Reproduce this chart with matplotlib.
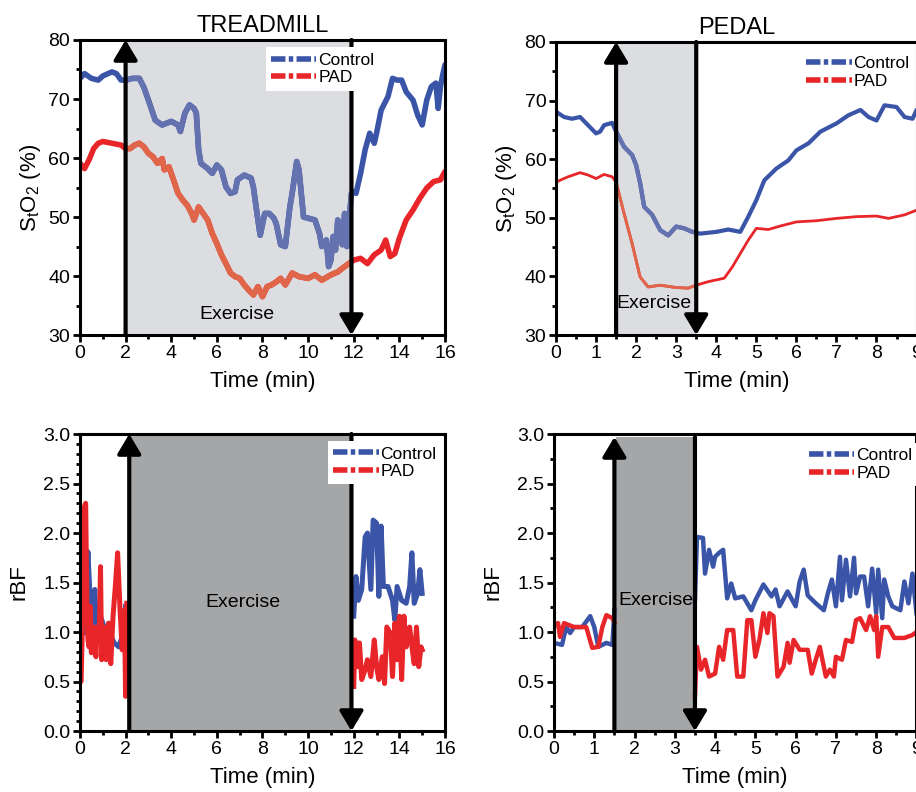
import numpy as np
import matplotlib
matplotlib.use("Agg")
import matplotlib.pyplot as plt
from matplotlib.lines import Line2D
from matplotlib.ticker import MultipleLocator

plt.rcParams['font.family'] = ['Liberation Sans', 'DejaVu Sans']
plt.rcParams['mathtext.fontset'] = 'custom'
plt.rcParams['mathtext.rm'] = 'Liberation Sans'
plt.rcParams['mathtext.it'] = 'Liberation Sans'

BLUE = '#3a55a8'
RED = '#e8262a'
BLUE_FADE = '#6472b0'
RED_FADE = '#e0664a'

# ---- treadmill StO2 ----
tm_ctrl_t = [0, 0.2, 0.5, 0.8, 1.0, 1.4, 1.6, 1.8, 2.0, 2.3, 2.6, 2.8, 3.0, 3.3, 3.6, 4.0, 4.3, 4.4,
             4.6, 4.8, 5.0, 5.1, 5.2, 5.3, 5.6, 5.8, 6.0, 6.2, 6.4, 6.6, 6.8, 6.9, 7.2, 7.5, 7.6, 7.8,
             7.9, 8.1, 8.3, 8.5, 8.6, 8.8, 9.0, 9.2, 9.3, 9.5, 9.6, 9.8, 10.0, 10.3, 10.5, 10.6, 10.8,
             10.9, 11.0, 11.1, 11.2, 11.3, 11.5, 11.6, 11.7, 11.9, 12.0, 12.1, 12.3, 12.5, 12.7, 12.9,
             13.0, 13.2, 13.5, 13.7, 13.9, 14.1, 14.3, 14.6, 14.8, 15.0, 15.2, 15.4, 15.6, 15.7, 15.8,
             15.9, 16.0]
tm_ctrl_v = [73.5, 74.3, 73.5, 73.2, 73.9, 74.6, 74.3, 73.2, 73.2, 73.5, 73.5, 72.0, 69.8, 66.4, 65.6,
             66.2, 65.6, 64.5, 67.6, 69.0, 68.4, 67.6, 61.4, 59.1, 58.2, 57.4, 58.8, 58.0, 55.1, 54.0,
             54.3, 56.3, 57.1, 56.6, 55.1, 49.5, 46.9, 50.6, 50.6, 49.8, 48.9, 45.3, 45.0, 51.7, 54.0,
             59.4, 58.0, 50.0, 49.8, 49.5, 47.2, 45.0, 46.1, 41.6, 42.7, 46.7, 44.4, 49.5, 45.3, 50.6,
             45.0, 54.0, 54.3, 54.0, 57.4, 61.4, 64.2, 62.5, 64.2, 68.1, 70.4, 73.5, 73.2, 73.2, 71.2,
             69.8, 67.3, 65.6, 69.8, 72.1, 72.7, 68.4, 72.1, 74.1, 75.8]
tm_pad_t = [0, 0.2, 0.4, 0.6, 0.8, 1.0, 1.4, 1.8, 2.0, 2.2, 2.4, 2.6, 2.8, 3.0, 3.2, 3.4, 3.6, 3.7, 3.9,
            4.1, 4.3, 4.5, 4.7, 4.9, 5.0, 5.2, 5.4, 5.6, 5.8, 6.0, 6.2, 6.4, 6.6, 6.8, 7.0, 7.2, 7.4,
            7.6, 7.8, 8.0, 8.2, 8.4, 8.6, 8.8, 9.0, 9.3, 9.6, 10.0, 10.3, 10.6, 11.0, 11.3, 11.6, 12.0,
            12.3, 12.6, 12.9, 13.2, 13.4, 13.6, 13.8, 14.0, 14.3, 14.6, 14.9, 15.2, 15.5, 15.8, 16.0]
tm_pad_v = [59.1, 58.2, 59.7, 61.6, 62.5, 62.8, 62.5, 62.2, 61.6, 61.6, 62.2, 62.5, 61.9, 60.8, 60.2,
            59.1, 59.9, 58.0, 58.5, 56.3, 54.0, 52.9, 52.0, 50.6, 49.5, 51.7, 50.6, 49.5, 47.2, 45.5,
            43.6, 42.1, 40.5, 39.9, 39.6, 38.5, 37.6, 36.8, 38.2, 36.5, 38.2, 38.5, 39.0, 39.6, 38.5,
            40.5, 39.9, 39.6, 40.2, 39.3, 40.2, 40.7, 41.6, 42.7, 43.0, 42.1, 43.6, 44.4, 46.1, 43.3,
            43.8, 46.4, 49.5, 51.2, 53.2, 54.9, 56.0, 56.3, 57.7]

# ---- pedal StO2 ----
pd_ctrl_t = [0, 0.2, 0.4, 0.6, 0.8, 1.0, 1.1, 1.2, 1.4, 1.5, 1.7, 1.9, 2.0, 2.1, 2.2, 2.4, 2.6, 2.8,
             3.0, 3.2, 3.4, 3.6, 4.0, 4.3, 4.6, 4.8, 5.0, 5.2, 5.5, 5.8, 6.0, 6.3, 6.6, 7.0, 7.3, 7.6,
             7.8, 8.0, 8.2, 8.5, 8.7, 8.9, 9.0]
pd_ctrl_v = [68.1, 67.2, 66.9, 67.2, 65.8, 64.4, 64.7, 65.8, 66.2, 64.7, 62.1, 60.7, 59.0, 55.9, 51.9,
             50.5, 47.9, 47.0, 48.5, 48.2, 47.6, 47.3, 47.6, 48.0, 47.6, 50.2, 53.0, 56.4, 58.4, 59.8,
             61.5, 62.7, 64.7, 66.1, 67.5, 68.4, 67.2, 66.6, 69.2, 68.9, 67.2, 66.9, 68.4]
pd_pad_t = [0, 0.3, 0.6, 0.8, 1.0, 1.2, 1.4, 1.5, 1.7, 1.9, 2.1, 2.3, 2.6, 3.0, 3.3, 3.5, 3.8, 4.2,
            4.4, 4.6, 4.8, 5.0, 5.3, 5.6, 6.0, 6.5, 7.0, 7.5, 8.0, 8.3, 8.7, 9.0]
pd_pad_v = [56.1, 57.0, 57.7, 57.3, 56.7, 57.4, 57.0, 56.1, 50.7, 45.6, 39.9, 38.2, 38.5, 38.1, 38.0,
            38.5, 39.1, 39.7, 41.6, 43.9, 46.2, 48.2, 48.0, 48.6, 49.3, 49.5, 49.9, 50.2, 50.3, 49.9,
            50.5, 51.3]

# ---- treadmill rBF (before / after exercise) ----
tmb_ctrl_t1 = [0, 0.1, 0.2, 0.35, 0.45, 0.55, 0.65, 0.75, 0.9, 1.1, 1.3, 1.5, 1.7, 1.9, 2.0]
tmb_ctrl_v1 = [1.26, 1.39, 0.99, 1.81, 1.32, 1.05, 1.43, 0.99, 1.16, 1.02, 0.99, 0.89, 0.85, 0.99, 1.26]
tmb_ctrl_t2 = [12.0, 12.1, 12.2, 12.35, 12.5, 12.6, 12.75, 12.85, 13.0, 13.1, 13.2, 13.3, 13.5, 13.7,
               13.8, 13.9, 14.1, 14.3, 14.45, 14.55, 14.65, 14.8, 14.9, 15.0]
tmb_ctrl_v2 = [1.16, 1.56, 1.32, 1.43, 1.96, 2.0, 1.43, 2.13, 2.1, 1.36, 2.07, 1.46, 1.46, 1.32, 1.12,
               1.46, 1.32, 1.29, 1.46, 1.8, 1.29, 1.39, 1.63, 1.39]
tmb_pad_t1 = [0, 0.05, 0.1, 0.2, 0.25, 0.3, 0.35, 0.4, 0.45, 0.5, 0.6, 0.7, 0.75, 0.85, 0.9, 0.95,
              1.05, 1.15, 1.25, 1.35, 1.45, 1.55, 1.65, 1.75, 1.85, 1.95, 2.0, 2.05]
tmb_pad_v1 = [0.52, 0.5, 0.99, 2.27, 2.3, 1.32, 0.92, 0.85, 1.26, 0.79, 1.05, 0.75, 1.05, 0.99, 1.66,
              0.72, 1.05, 0.72, 1.09, 0.68, 1.16, 1.46, 1.8, 1.26, 0.82, 1.22, 0.35, 1.29]
tmb_pad_t2 = [12.0, 12.05, 12.15, 12.25, 12.35, 12.5, 12.6, 12.75, 12.9, 13.0, 13.1, 13.25, 13.35,
              13.45, 13.6, 13.7, 13.8, 13.9, 14.0, 14.1, 14.2, 14.3, 14.45, 14.55, 14.65, 14.75, 14.85,
              14.95, 15.0]
tmb_pad_v2 = [0.45, 0.92, 0.65, 0.89, 0.52, 0.62, 0.72, 0.55, 0.92, 0.65, 0.52, 0.75, 0.48, 1.05, 0.99,
              0.55, 1.09, 0.72, 1.16, 0.52, 1.16, 0.85, 1.05, 0.85, 0.68, 1.05, 0.65, 0.85, 0.82]

# ---- pedal rBF ----
pdb_ctrl_t1 = [0, 0.2, 0.3, 0.4, 0.5, 0.7, 0.9, 1.0, 1.1, 1.3, 1.45, 1.5]
pdb_ctrl_v1 = [0.89, 0.87, 1.05, 0.99, 1.05, 1.05, 1.16, 1.05, 0.85, 0.89, 0.87, 1.22]
pdb_ctrl_t2 = [3.5, 3.55, 3.7, 3.75, 3.85, 3.95, 4.0, 4.1, 4.2, 4.3, 4.4, 4.5, 4.7, 4.9, 5.0, 5.2, 5.4,
               5.5, 5.6, 5.8, 6.0, 6.1, 6.2, 6.3, 6.5, 6.7, 6.8, 6.9, 7.0, 7.1, 7.15, 7.25, 7.35, 7.45,
               7.5, 7.6, 7.7, 7.8, 7.9, 8.0, 8.05, 8.15, 8.2, 8.3, 8.4, 8.6, 8.7, 8.8, 8.9, 9.0]
pdb_ctrl_v2 = [1.32, 1.96, 1.95, 1.59, 1.83, 1.66, 1.76, 1.8, 1.83, 1.34, 1.49, 1.34, 1.36, 1.22, 1.32,
               1.48, 1.36, 1.43, 1.26, 1.41, 1.26, 1.51, 1.63, 1.37, 1.29, 1.22, 1.39, 1.53, 1.26, 1.76,
               1.32, 1.73, 1.36, 1.75, 1.39, 1.56, 1.56, 1.26, 1.64, 1.19, 1.63, 1.14, 1.53, 1.36, 1.26,
               1.22, 1.51, 1.29, 1.59, 1.19]
pdb_pad_t1 = [0, 0.1, 0.15, 0.25, 0.5, 0.8, 0.95, 1.1, 1.2, 1.3, 1.45, 1.5]
pdb_pad_v1 = [1.07, 1.09, 0.95, 1.09, 1.05, 1.05, 0.84, 0.85, 1.05, 1.17, 1.14, 1.1]
pdb_pad_t2 = [3.5, 3.55, 3.65, 3.75, 3.85, 4.0, 4.1, 4.2, 4.3, 4.45, 4.55, 4.7, 4.8, 4.9, 5.0, 5.1, 5.2,
              5.3, 5.35, 5.45, 5.55, 5.7, 5.8, 5.85, 5.95, 6.1, 6.3, 6.4, 6.5, 6.6, 6.75, 6.85, 6.95,
              7.0, 7.15, 7.25, 7.4, 7.5, 7.6, 7.75, 7.85, 7.95, 8.0, 8.05, 8.15, 8.3, 8.45, 8.7, 8.9, 9.0]
pdb_pad_v2 = [0.35, 0.85, 0.62, 0.72, 0.55, 0.58, 0.85, 0.72, 1.02, 1.02, 0.55, 0.55, 1.12, 1.12, 0.75,
              0.92, 1.19, 0.99, 1.19, 1.16, 0.55, 0.65, 0.89, 0.69, 0.92, 0.82, 0.82, 0.58, 0.72, 0.85,
              0.55, 0.62, 0.55, 0.75, 0.72, 0.92, 0.9, 1.12, 1.14, 1.02, 1.16, 1.02, 1.16, 0.75, 1.05,
              1.05, 0.94, 0.94, 0.97, 1.0]


def style_axes(ax, xmax, xmajor, ylim, ymajor, yminor):
    ax.set_xlim(0, xmax)
    ax.set_ylim(*ylim)
    ax.xaxis.set_major_locator(MultipleLocator(xmajor))
    ax.xaxis.set_minor_locator(MultipleLocator(xmajor / 2))
    ax.yaxis.set_major_locator(MultipleLocator(ymajor))
    ax.yaxis.set_minor_locator(MultipleLocator(yminor))
    ax.tick_params(which='major', direction='out', length=5, width=2, labelsize=14, pad=2)
    ax.tick_params(which='minor', direction='out', length=3, width=2)
    for s in ax.spines.values():
        s.set_linewidth(2.2)
    ax.set_xlabel('Time (min)', fontsize=16, labelpad=7)


def arrows(ax, x_up, x_down, y0, y1):
    props = dict(arrowstyle='-|>,head_width=0.45,head_length=0.75', lw=3, color='k',
                 shrinkA=0, shrinkB=0, mutation_scale=16)
    ax.annotate('', xy=(x_up, y1), xytext=(x_up, y0), arrowprops=props, zorder=4, annotation_clip=False)
    ax.annotate('', xy=(x_down, y0), xytext=(x_down, y1), arrowprops=props, zorder=4, annotation_clip=False)


def faded_line(ax, t, v, color, fade, lw, span):
    ax.plot(t, v, color=color, lw=lw, zorder=2, solid_capstyle='round')
    ln, = ax.plot(t, v, color=fade, lw=lw, zorder=3, solid_capstyle='round')
    ln.set_clip_path(span)


def add_legend(ax, x, y):
    h = [Line2D([], [], color=BLUE, lw=4, dashes=(2.6, 0.6, 0.8, 0.6)),
         Line2D([], [], color=RED, lw=4, dashes=(2.6, 0.6, 0.8, 0.6))]
    leg = ax.legend(h, ['Control', 'PAD'], loc='upper left', bbox_to_anchor=(x, y), fontsize=12.5,
                    frameon=True, framealpha=1, edgecolor='none', fancybox=False,
                    handlelength=2.6, handletextpad=0.1, borderpad=0.3, labelspacing=0.15,
                    borderaxespad=0)
    leg.set_zorder(6)


fig = plt.figure(figsize=(9.16, 7.92), dpi=100)
ax1 = fig.add_axes([0.0873, 0.577, 0.3985, 0.3725])
ax2 = fig.add_axes([0.607, 0.577, 0.3936, 0.370])
ax3 = fig.add_axes([0.0873, 0.077, 0.3985, 0.375])
ax4 = fig.add_axes([0.6048, 0.077, 0.3957, 0.375])

# treadmill StO2
style_axes(ax1, 16, 2, (30, 80), 10, 5)
span1 = ax1.axvspan(2.0, 11.9, color='#dcdde0', zorder=1, lw=0)
faded_line(ax1, tm_ctrl_t, tm_ctrl_v, BLUE, BLUE_FADE, 4.0, span1)
faded_line(ax1, tm_pad_t, tm_pad_v, RED, RED_FADE, 4.0, span1)
arrows(ax1, 2.0, 11.9, 30, 80)
ax1.text(6.87, 33.4, 'Exercise', fontsize=14, ha='center', va='center', zorder=5)
ax1.set_ylabel(r'S$_\mathrm{t}$O$_\mathrm{2}$ (%)', fontsize=16, labelpad=4)
ax1.set_title('TREADMILL', fontsize=17, pad=6)
add_legend(ax1, 0.51, 0.975)

# pedal StO2
style_axes(ax2, 9, 1, (30, 80), 10, 5)
ax2.xaxis.set_minor_locator(MultipleLocator(0.5))
span2 = ax2.axvspan(1.5, 3.5, color='#dcdde0', zorder=1, lw=0)
faded_line(ax2, pd_ctrl_t, pd_ctrl_v, BLUE, BLUE_FADE, 3.0, span2)
faded_line(ax2, pd_pad_t, pd_pad_v, RED, RED_FADE, 2.0, span2)
arrows(ax2, 1.5, 3.5, 30, 80)
ax2.text(2.45, 35.3, 'Exercise', fontsize=14, ha='center', va='center', zorder=5)
ax2.set_ylabel(r'S$_\mathrm{t}$O$_\mathrm{2}$ (%)', fontsize=16, labelpad=4)
ax2.set_title('PEDAL', fontsize=17, pad=6)
add_legend(ax2, 0.68, 0.97)

# treadmill rBF
style_axes(ax3, 16, 2, (0, 3), 0.5, 0.1)
ax3.axvspan(2.2, 11.9, color='#a5a6a8', zorder=1, lw=0)
for t, v, c in [(tmb_ctrl_t1, tmb_ctrl_v1, BLUE), (tmb_ctrl_t2, tmb_ctrl_v2, BLUE),
                (tmb_pad_t1, tmb_pad_v1, RED), (tmb_pad_t2, tmb_pad_v2, RED)]:
    ax3.plot(t, v, color=c, lw=3.6, zorder=2)
arrows(ax3, 2.16, 11.9, 0, 3)
ax3.text(7.16, 1.3, 'Exercise', fontsize=14, ha='center', va='center', zorder=5)
ax3.set_ylabel('rBF', fontsize=16, labelpad=10)
add_legend(ax3, 0.68, 0.976)

# pedal rBF
style_axes(ax4, 9, 1, (0, 3), 0.5, 0.25)
ax4.xaxis.set_minor_locator(MultipleLocator(0.5))
ax4.fill_between([1.55, 3.5], 0, 2.97, color='#a5a6a8', zorder=1, lw=0)
for t, v, c in [(pdb_ctrl_t1, pdb_ctrl_v1, BLUE), (pdb_ctrl_t2, pdb_ctrl_v2, BLUE),
                (pdb_pad_t1, pdb_pad_v1, RED), (pdb_pad_t2, pdb_pad_v2, RED)]:
    ax4.plot(t, v, color=c, lw=3.2, zorder=2)
arrows(ax4, 1.5, 3.5, 0, 2.97)
ax4.text(2.53, 1.32, 'Exercise', fontsize=14, ha='center', va='center', zorder=5)
ax4.set_ylabel('rBF', fontsize=16, labelpad=10)
add_legend(ax4, 0.69, 0.97)

fig.savefig('out.png', dpi=100)
